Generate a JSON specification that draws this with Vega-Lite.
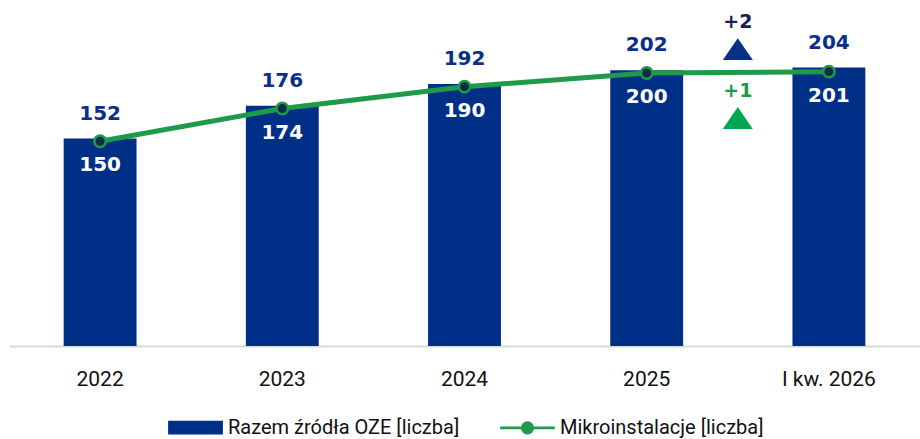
{
  "$schema": "https://vega.github.io/schema/vega-lite/v6.json",
  "width": 911,
  "height": 346,
  "autosize": {"type": "none"},
  "padding": {"left": 9, "top": 0, "right": 0, "bottom": 93},
  "background": "#ffffff",
  "datasets": {
    "main": [
      {"rok": "2022", "razem": 152, "mikro": 150},
      {"rok": "2023", "razem": 176, "mikro": 174},
      {"rok": "2024", "razem": 192, "mikro": 190},
      {"rok": "2025", "razem": 202, "mikro": 200},
      {"rok": "I kw. 2026", "razem": 204, "mikro": 201}
    ],
    "zmiany": [
      {"rok": "2025", "wart": 217.5, "seria": "razem", "etykieta": "+2"},
      {"rok": "2025", "wart": 167, "seria": "mikro", "etykieta": "+1"}
    ]
  },
  "data": {"name": "main"},
  "encoding": {
    "x": {
      "field": "rok",
      "type": "nominal",
      "sort": null,
      "scale": {"paddingInner": 0.6, "paddingOuter": 0.3},
      "axis": {
        "title": null,
        "labelAngle": 0,
        "ticks": false,
        "labelPadding": 22,
        "labelFont": "Roboto",
        "labelFontSize": 21,
        "labelColor": "#111111",
        "domainColor": "#d9d9d9",
        "domainWidth": 2,
        "grid": false
      }
    }
  },
  "layer": [
    {
      "mark": {"type": "bar"},
      "encoding": {
        "y": {"field": "razem", "type": "quantitative", "scale": {"domain": [0, 253.5], "nice": false}, "axis": null},
        "color": {
          "datum": "Razem źródła OZE [liczba]",
          "scale": {
            "domain": ["Razem źródła OZE [liczba]", "Mikroinstalacje [liczba]"],
            "range": ["#002f87", "#1e9a48"]
          },
          "legend": {
            "title": null,
            "orient": "none",
            "direction": "horizontal",
            "legendX": 159,
            "legendY": 400,
            "columnPadding": 34,
            "labelFont": "Roboto",
            "labelFontSize": 20,
            "labelColor": "#111111",
            "labelOffset": 5,
            "labelLimit": 400,
            "symbolSize": 2704,
            "encode": {
              "symbols": {
                "update": {
                  "shape": {"signal": "datum.value === 'Mikroinstalacje [liczba]' ? 'M-1.05,0H-0.2M0.2,0H1.05M-0.2,0A0.2,0.2 0 1,0 0.2,0A0.2,0.2 0 1,0 -0.2,0' : 'M-1,-0.21H1V0.21H-1Z'"},
                  "fill": {"signal": "datum.value === 'Mikroinstalacje [liczba]' ? '#0d2c48' : '#002f87'"},
                  "stroke": {"signal": "datum.value === 'Mikroinstalacje [liczba]' ? '#1e9a48' : 'transparent'"},
                  "strokeWidth": {"value": 2.8},
                  "size": {"value": 2704},
                  "opacity": {"value": 1},
                  "fillOpacity": {"value": 1},
                  "strokeOpacity": {"value": 1}
                }
              }
            }
          }
        }
      }
    },
    {
      "mark": {"type": "text", "baseline": "middle", "dy": -25, "font": "DejaVu Sans", "fontWeight": "bold", "fontSize": 20, "color": "#0a2f8a"},
      "encoding": {
        "y": {"field": "razem", "type": "quantitative"},
        "text": {"field": "razem", "type": "quantitative"}
      }
    },
    {
      "mark": {"type": "line", "strokeWidth": 5},
      "encoding": {
        "y": {"field": "mikro", "type": "quantitative"},
        "color": {"datum": "Mikroinstalacje [liczba]"}
      }
    },
    {
      "mark": {"type": "point", "filled": true, "fill": "#0d2c48", "stroke": "#1e9a48", "strokeWidth": 2.5, "size": 130, "opacity": 1},
      "encoding": {
        "y": {"field": "mikro", "type": "quantitative"}
      }
    },
    {
      "mark": {"type": "text", "baseline": "middle", "dy": 24, "font": "DejaVu Sans", "fontWeight": "bold", "fontSize": 20, "color": "#ffffff"},
      "encoding": {
        "y": {"field": "mikro", "type": "quantitative"},
        "text": {"field": "mikro", "type": "quantitative"}
      }
    },
    {
      "data": {"name": "zmiany"},
      "mark": {"type": "point", "filled": true, "shape": "M0,-0.73L1,0.73L-1,0.73Z", "size": 900, "opacity": 1},
      "encoding": {
        "x": {"field": "rok", "type": "nominal", "bandPosition": 1.75},
        "y": {"field": "wart", "type": "quantitative"},
        "fill": {"field": "seria", "type": "nominal", "scale": {"domain": ["razem", "mikro"], "range": ["#0b3088", "#00a651"]}, "legend": null}
      }
    },
    {
      "data": {"name": "zmiany"},
      "mark": {"type": "text", "baseline": "middle", "dy": -27, "font": "DejaVu Sans", "fontWeight": "bold", "fontSize": 19},
      "encoding": {
        "x": {"field": "rok", "type": "nominal", "bandPosition": 1.75},
        "y": {"field": "wart", "type": "quantitative"},
        "text": {"field": "etykieta"},
        "fill": {"field": "seria", "type": "nominal", "scale": {"domain": ["razem", "mikro"], "range": ["#13224f", "#1e9a48"]}, "legend": null}
      }
    }
  ],
  "resolve": {"scale": {"fill": "independent"}},
  "config": {
    "view": {"stroke": null}
  }
}
